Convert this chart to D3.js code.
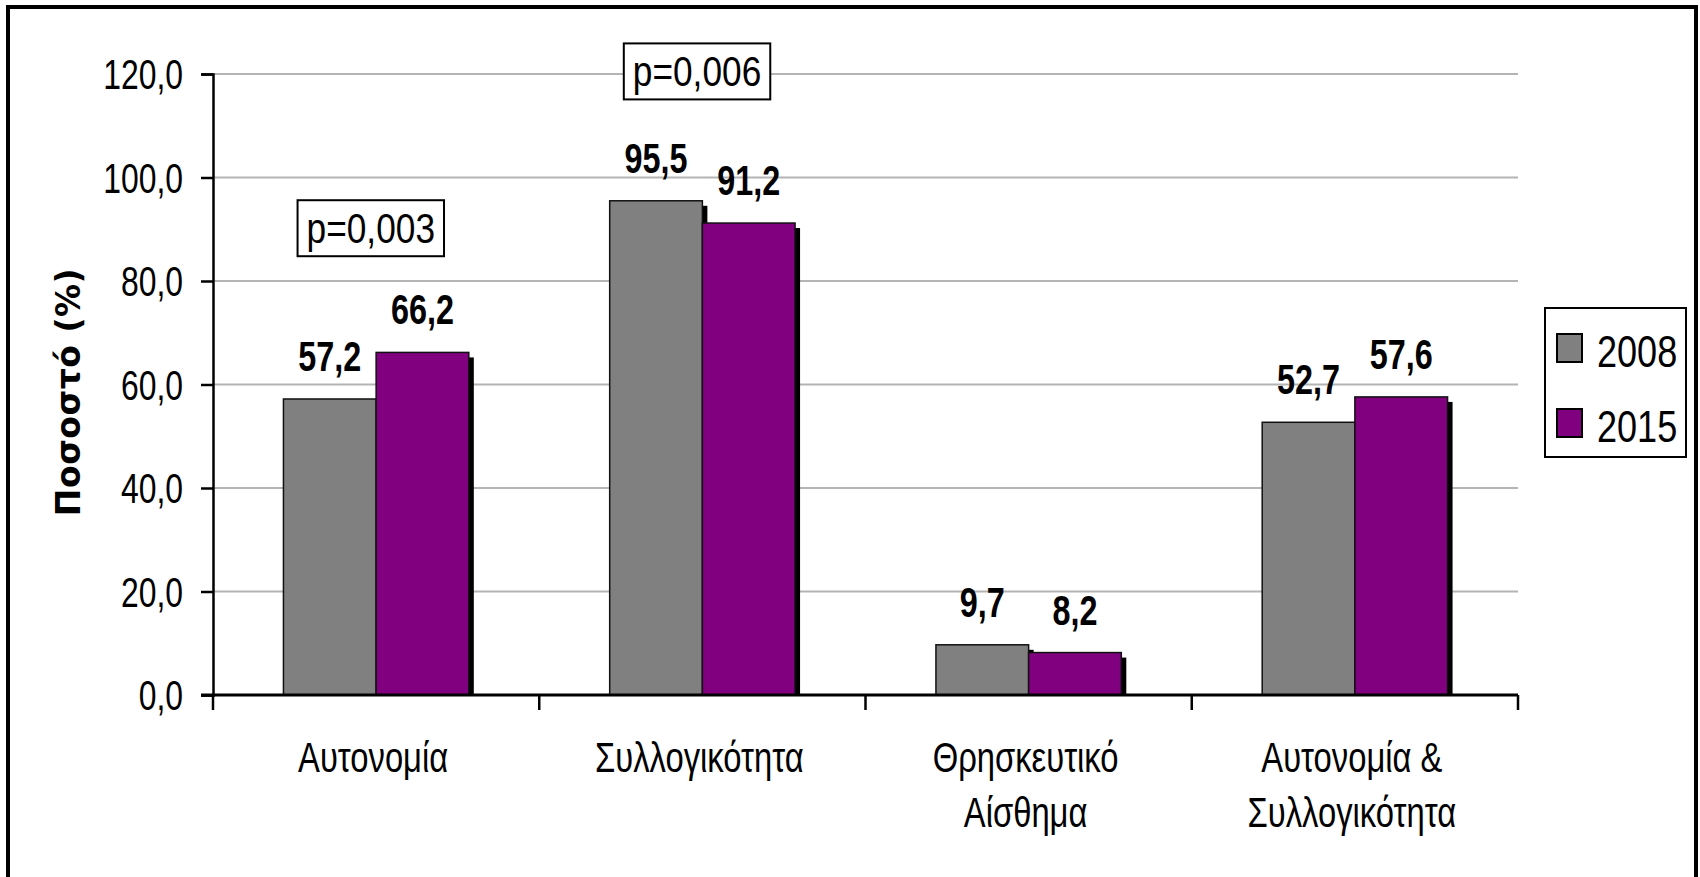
<!DOCTYPE html>
<html>
<head>
<meta charset="utf-8">
<script src="https://cdn.jsdelivr.net/npm/d3@7"></script>
<style>
    body { margin: 0; background: #fff; }
    svg text { font-family: "Liberation Sans", Arial, sans-serif; fill: #000; }
</style>
</head>
<body>
<div id="chart"></div>
<script>
const categories = [["Αυτονομία"], ["Συλλογικότητα"], ["Θρησκευτικό", "Αίσθημα"], ["Αυτονομία &", "Συλλογικότητα"]];
const seriesNames = ["2008", "2015"];
const values2008 = [57.2, 95.5, 9.7, 52.7];
const values2015 = [66.2, 91.2, 8.2, 57.6];
const yTicks = [0, 20, 40, 60, 80, 100, 120];
const pNotes = [
    { cat: 0, text: "p=0,003", value: 90.2 },
    { cat: 1, text: "p=0,006", value: 120.5 }
];

const colors = { "2008": "#808080", "2015": "#800080" };
const width = 1700;
const height = 877;
const plot = { left: 213, right: 1518, top: 74, bottom: 695 };

const svg = d3.select("#chart")
    .append("svg")
    .attr("width", width)
    .attr("height", height);

// the original uses a narrow face; squeeze the regular one instead
function narrowText(parent, x, y, sx) {
    return parent.append("text")
        .attr("transform", `translate(${x}, ${y}) scale(${sx}, 1)`);
}

// outer frame
svg.append("rect")
    .attr("x", 8).attr("y", 7)
    .attr("width", 1688).attr("height", 900)
    .attr("fill", "none")
    .attr("stroke", "#000")
    .attr("stroke-width", 4);

const catKeys = categories.map(d => d.join(" "));
const x0 = d3.scaleBand().domain(catKeys).range([plot.left, plot.right]);
const x1 = d3.scaleBand().domain(seriesNames).range([0, x0.bandwidth()]).paddingOuter(0.76);
const y = d3.scaleLinear().domain([0, 120]).range([plot.bottom, plot.top]);

// gridlines
svg.append("g")
    .selectAll("line")
    .data(yTicks.filter(d => d > 0))
    .enter()
    .append("line")
    .attr("x1", plot.left).attr("x2", plot.right)
    .attr("y1", d => y(d)).attr("y2", d => y(d))
    .attr("stroke", "#b4b4b4")
    .attr("stroke-width", 2);

// y axis
const tickSx = 0.76;
const yAxis = d3.axisLeft(y)
    .tickValues(yTicks)
    .tickSize(12)
    .tickPadding(30)
    .tickFormat(d => d.toFixed(1).replace(".", ","));

const yG = svg.append("g")
    .attr("transform", `translate(${plot.left}, 0)`)
    .call(yAxis);
yG.select(".domain").attr("stroke", "#000").attr("stroke-width", 2.5);
yG.selectAll(".tick line").attr("stroke", "#000").attr("stroke-width", 2.5);
yG.selectAll(".tick text")
    .attr("font-size", 42)
    .attr("font-family", "'Liberation Sans', Arial, sans-serif")
    .attr("x", -30 / tickSx)
    .attr("transform", `scale(${tickSx}, 1)`)
    .attr("dy", "0.35em");

// bars
const series = [
    { name: "2008", values: values2008 },
    { name: "2015", values: values2015 }
];

series.forEach(s => {
    const g = svg.append("g");
    const rows = s.values.map((v, i) => ({ v, key: catKeys[i] }));

    // drop shadow
    g.selectAll("rect.shadow")
        .data(rows)
        .enter()
        .append("rect")
        .attr("class", "shadow")
        .attr("x", d => x0(d.key) + x1(s.name) + 5)
        .attr("y", d => y(d.v) + 5)
        .attr("width", x1.bandwidth())
        .attr("height", d => y(0) - y(d.v) - 5)
        .attr("fill", "#000");

    g.selectAll("rect.bar")
        .data(rows)
        .enter()
        .append("rect")
        .attr("class", "bar")
        .attr("x", d => x0(d.key) + x1(s.name))
        .attr("y", d => y(d.v))
        .attr("width", x1.bandwidth())
        .attr("height", d => y(0) - y(d.v))
        .attr("fill", colors[s.name])
        .attr("stroke", "#111")
        .attr("stroke-width", 1.5);
});

// data labels
const labelG = svg.append("g");
series.forEach(s => {
    s.values.forEach((v, i) => {
        narrowText(labelG, x0(catKeys[i]) + x1(s.name) + x1.bandwidth() / 2, y(v) - 28, 0.77)
            .attr("text-anchor", "middle")
            .attr("font-size", 42)
            .attr("font-weight", "bold")
            .text(v.toFixed(1).replace(".", ","));
    });
});

// x axis
const xG = svg.append("g")
    .attr("transform", `translate(0, ${plot.bottom})`);
xG.append("line")
    .attr("x1", plot.left - 12).attr("x2", plot.right)
    .attr("stroke", "#000")
    .attr("stroke-width", 3);
xG.selectAll("line.tick")
    .data(catKeys.map(k => x0(k)).concat([plot.right]))
    .enter()
    .append("line")
    .attr("class", "tick")
    .attr("x1", d => d).attr("x2", d => d)
    .attr("y1", 0).attr("y2", 15)
    .attr("stroke", "#000")
    .attr("stroke-width", 2.5);

categories.forEach((lines, i) => {
    const t = narrowText(xG, x0(catKeys[i]) + x0.bandwidth() / 2 - 3, 77, 0.78)
        .attr("text-anchor", "middle")
        .attr("font-size", 42);
    t.selectAll("tspan")
        .data(lines)
        .enter()
        .append("tspan")
        .attr("x", 0)
        .attr("y", (d, j) => j * 55)
        .text(d => d);
});

// y title
svg.append("text")
    .attr("transform", "translate(80, 392) rotate(-90)")
    .attr("text-anchor", "middle")
    .style("font-family", "'DejaVu Sans', sans-serif")
    .attr("font-size", 33)
    .attr("font-weight", "bold")
    .attr("letter-spacing", 0.5)
    .text("Ποσοστό (%)");

// p-value boxes
pNotes.forEach(p => {
    const cx = x0(catKeys[p.cat]) + x1("2008") + x1.bandwidth() / 2 + 41;
    const g = svg.append("g");
    const t = narrowText(g, cx, y(p.value) + 15, 0.84)
        .attr("text-anchor", "middle")
        .attr("font-size", 42)
        .text(p.text);
    const w = t.node().getBBox().width * 0.84;
    g.insert("rect", "text")
        .attr("x", cx - w / 2 - 9)
        .attr("y", y(p.value) - 28)
        .attr("width", w + 18)
        .attr("height", 56)
        .attr("fill", "#fff")
        .attr("stroke", "#000")
        .attr("stroke-width", 2);
});

// legend
const legend = svg.append("g");
legend.append("rect")
    .attr("x", 1545).attr("y", 308)
    .attr("width", 141).attr("height", 149)
    .attr("fill", "#fff")
    .attr("stroke", "#000")
    .attr("stroke-width", 2);
seriesNames.forEach((name, i) => {
    const item = legend.append("g")
        .attr("transform", `translate(1557, ${334 + i * 75})`);
    item.append("rect")
        .attr("width", 25).attr("height", 28)
        .attr("fill", colors[name])
        .attr("stroke", "#000")
        .attr("stroke-width", 2);
    narrowText(item, 40, 33, 0.82)
        .attr("font-size", 44)
        .text(name);
});
</script>
</body>
</html>
